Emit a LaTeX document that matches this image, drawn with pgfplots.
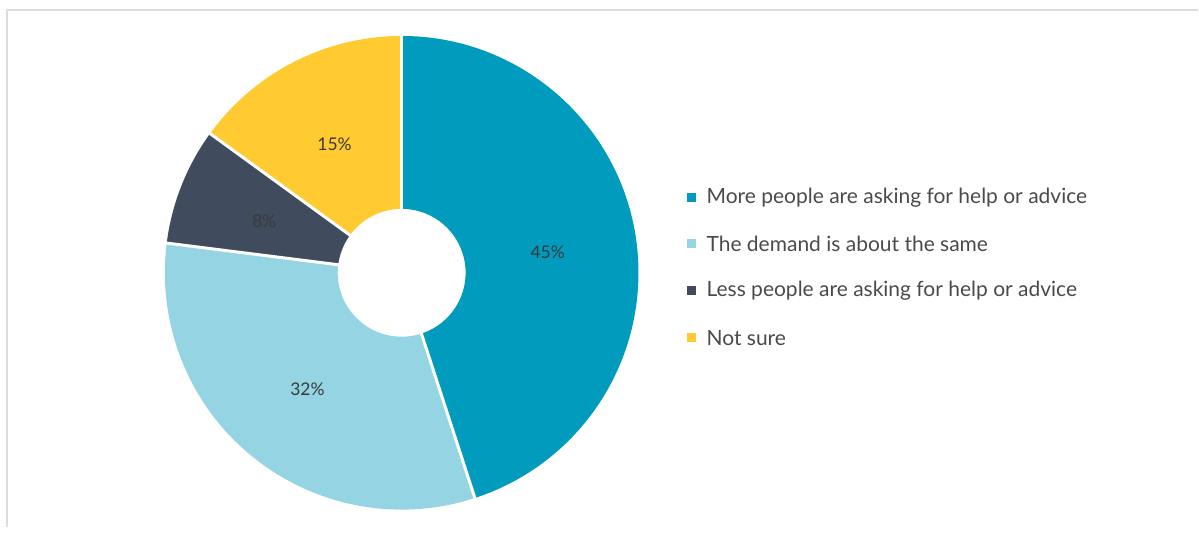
\documentclass[border=0pt]{standalone}
\usepackage{pgfplots}
\pgfplotsset{compat=1.18}
\usepackage{fontspec}
\setmainfont{Lato}
\definecolor{cA}{HTML}{009BBD}
\definecolor{cB}{HTML}{95D5E3}
\definecolor{cC}{HTML}{404B5E}
\definecolor{cD}{HTML}{FFCB31}
\definecolor{txt}{HTML}{4A4A4A}
\definecolor{lbl}{HTML}{3A3A3A}
\definecolor{frame}{HTML}{DCDCDC}
\begin{document}
\begin{tikzpicture}
\begin{axis}[
  scale only axis, width=1199pt, height=527pt,
  xmin=0, xmax=1199, ymin=0, ymax=527,
  hide axis, clip=false,
]
\addplot[draw=none] coordinates {(0,0) (1199,527)};
\pgfplotsextra{
  \draw[frame, line width=2pt] (axis cs:7,0) -- (axis cs:7,516.5) -- (axis cs:1199,516.5);
  \gdef\curA{90}
  \foreach \v/\c in {45/cA, 32/cB, 8/cC, 15/cD}{
    \pgfmathsetmacro\a{\curA}
    \pgfmathsetmacro\b{\a-\v*3.6}
    \pgfmathsetmacro\m{(\a+\b)/2}
    \fill[\c] ([shift={(\a:237pt)}]axis cs:402,254) arc[start angle=\a, end angle=\b, radius=237pt]
      -- ([shift={(\b:64pt)}]axis cs:402,254) arc[start angle=\b, end angle=\a, radius=64pt] -- cycle;
    \node[lbl, font=\fontsize{17.5}{20}\selectfont] at ([shift={(\m:148pt)}]axis cs:402,251) {\v\%};
    \xdef\curA{\b}
  }
  \foreach \ang in {90, -72, -187.2, -216}{
    \draw[white, line width=3pt] ([shift={(\ang:62pt)}]axis cs:402,254) -- ([shift={(\ang:239pt)}]axis cs:402,254);
  }
  \foreach \y/\c/\t in {329/cA/{More people are asking for help or advice},
                        283/cB/{The demand is about the same},
                        236/cC/{Less people are asking for help or advice},
                        189/cD/{Not sure}}{
    \fill[\c] (axis cs:688,\y-4.5) rectangle (axis cs:697,\y+4.5);
    \node[txt, anchor=west, inner sep=0pt, font=\fontsize{21}{25}\selectfont] at (axis cs:707,\y) {\t};
  }
}
\end{axis}
\end{tikzpicture}
\end{document}
